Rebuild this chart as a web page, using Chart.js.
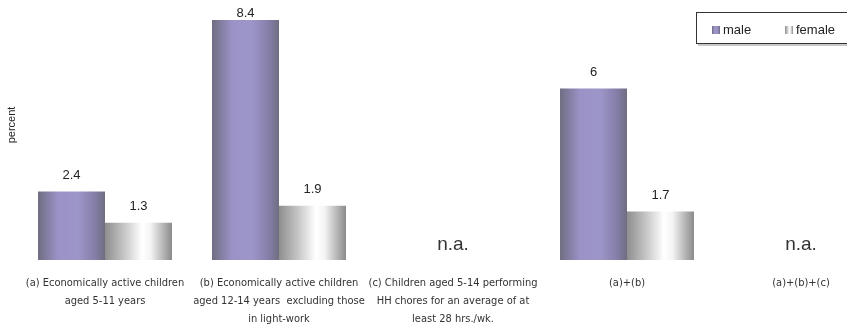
<!DOCTYPE html>
<html>
<head>
<meta charset="utf-8">
<script src="https://cdn.jsdelivr.net/npm/chart.js@4"></script>
<style>
  html, body { margin: 0; padding: 0; background: #fff; overflow: hidden; }
  #wrap { width: 900px; height: 324px; }
</style>
</head>
<body>
<div id="wrap"><canvas id="c" width="900" height="324"></canvas></div>
<script>
// Child labour indicators by sex (percent)
const categories = [
  ["(a) Economically active children", "aged 5-11 years"],
  ["(b) Economically active children", "aged 12-14 years  excluding those", "in light-work"],
  ["(c) Children aged 5-14 performing", "HH chores for an average of at", "least 28 hrs./wk."],
  "(a)+(b)",
  "(a)+(b)+(c)"
];
const maleValues = [2.4, 8.4, null, 6, null];
const femaleValues = [1.3, 1.9, null, 1.7, null];
const notAvailable = [false, false, true, false, true];
const seriesNames = ["male", "female"];
const axisTitle = "percent";

const labelFont = '"Liberation Sans Narrow", "DejaVu Sans Condensed", "Liberation Sans", sans-serif';
const plainFont = '"Liberation Sans", Arial, sans-serif';

// colour stops for the cylinder-like shading of each series
const shading = [
  [[0, '#6f6d82'], [0.3, '#9b93c7'], [0.6, '#9d96c9'], [0.85, '#847ea8'], [1, '#6f6e80']],
  [[0, '#8e8e8e'], [0.3, '#c9c9c9'], [0.55, '#ffffff'], [0.68, '#f4f4f4'], [1, '#8a8a8a']]
];

function makeGradient(ctx, x0, x1, stops) {
  const g = ctx.createLinearGradient(x0, 0, x1, 0);
  stops.forEach(s => g.addColorStop(s[0], s[1]));
  return g;
}

// give each bar its own gradient (options objects are shared, so copy them)
const shadingPlugin = {
  id: 'shading',
  beforeDatasetsDraw(chart) {
    const ctx = chart.ctx;
    chart.data.datasets.forEach((ds, i) => {
      chart.getDatasetMeta(i).data.forEach(el => {
        const x0 = el.x - el.width / 2, x1 = el.x + el.width / 2;
        el.options = Object.assign({}, el.options, {
          backgroundColor: makeGradient(ctx, x0, x1, shading[i])
        });
      });
    });
  }
};

const annotatePlugin = {
  id: 'annotate',
  afterDatasetsDraw(chart) {
    const ctx = chart.ctx;
    const xs = chart.scales.x, ys = chart.scales.y;
    ctx.save();
    // value labels above bars
    ctx.fillStyle = '#222';
    ctx.font = '13px ' + plainFont;
    ctx.textAlign = 'center';
    ctx.textBaseline = 'middle';
    chart.data.datasets.forEach((ds, i) => {
      chart.getDatasetMeta(i).data.forEach((el, j) => {
        const v = ds.data[j];
        if (v === null || v === undefined) return;
        const y = Math.max(el.y - 16, 13);
        ctx.fillText(String(v), el.x, y);
      });
    });
    // not-available markers
    ctx.font = '19px ' + plainFont;
    ctx.fillStyle = '#333';
    notAvailable.forEach((na, j) => {
      if (!na) return;
      ctx.fillText('n.a.', xs.getPixelForValue(j), ys.getPixelForValue(0) - 15);
    });
    // axis title
    ctx.font = '11px ' + plainFont;
    ctx.fillStyle = '#222';
    ctx.translate(12, (chart.chartArea.top + chart.chartArea.bottom) / 2 - 5);
    ctx.rotate(-Math.PI / 2);
    ctx.fillText(axisTitle, 0, 0);
    ctx.restore();
  }
};

const legendBoxPlugin = {
  id: 'legendBox',
  afterDraw(chart) {
    const ctx = chart.ctx;
    ctx.save();
    // framed legend with a soft drop shadow
    ctx.fillStyle = '#c8c8c8';
    ctx.fillRect(698, 14, 220, 32);
    ctx.fillStyle = '#fff';
    ctx.fillRect(696, 12, 220, 32);
    ctx.strokeStyle = '#333';
    ctx.lineWidth = 1;
    ctx.strokeRect(696.5, 12.5, 220, 31);
    const items = [[712, 0], [785, 1]];
    ctx.font = '13px ' + plainFont;
    ctx.textBaseline = 'middle';
    ctx.textAlign = 'left';
    items.forEach(([x, i]) => {
      ctx.fillStyle = makeGradient(ctx, x, x + 8, shading[i]);
      ctx.fillRect(x, 26, 8, 8);
      ctx.fillStyle = '#222';
      ctx.fillText(seriesNames[i], x + 11, 30);
    });
    ctx.restore();
  }
};

new Chart(document.getElementById('c'), {
  type: 'bar',
  data: {
    labels: categories,
    datasets: [
      { label: seriesNames[0], data: maleValues, borderWidth: 0 },
      { label: seriesNames[1], data: femaleValues, borderWidth: 0 }
    ]
  },
  options: {
    responsive: false,
    animation: false,
    events: [],
    layout: { padding: { left: 18, right: 12, top: 0, bottom: 0 } },
    datasets: { bar: { categoryPercentage: 0.77, barPercentage: 1 } },
    plugins: { legend: { display: false }, tooltip: { enabled: false } },
    scales: {
      x: {
        grid: { display: false },
        border: { display: false },
        ticks: {
          color: '#333',
          font: { family: labelFont, size: 11, lineHeight: 1.64 },
          padding: 6,
          maxRotation: 0,
          autoSkip: false
        },
        afterFit(scale) { scale.height = 64; }
      },
      y: {
        display: false,
        min: 0,
        max: 9.1
      }
    }
  },
  plugins: [shadingPlugin, annotatePlugin, legendBoxPlugin]
});
</script>
</body>
</html>
